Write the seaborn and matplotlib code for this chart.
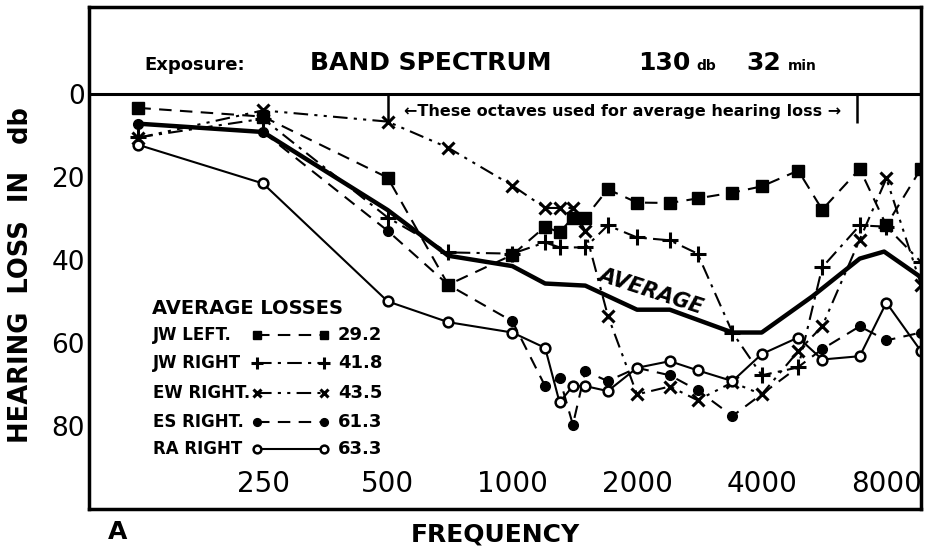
import matplotlib
matplotlib.use('Agg')
import matplotlib.pyplot as plt
from matplotlib.lines import Line2D
from matplotlib.ticker import NullLocator
import seaborn as sns

# hearing loss (db) against frequency (Hz)
jw_left_freq = [125, 250, 500, 700, 1000, 1200, 1300, 1400, 1500, 1700, 2000, 2400, 2800, 3400, 4000, 4900, 5600, 6900, 8000, 9700]
jw_left_loss = [3.4, 5.5, 20.2, 46, 38.8, 32, 33.4, 29.8, 29.8, 23, 26.2, 26.3, 25.2, 23.8, 22.3, 18.5, 27.9, 18.1, 31.7, 18]

jw_right_freq = [125, 250, 500, 700, 1000, 1200, 1300, 1500, 1700, 2000, 2400, 2800, 3400, 4000, 4900, 5600, 6900, 8000, 9700]
jw_right_loss = [10.5, 6, 29.8, 38.2, 38.5, 35.8, 37, 37, 31.7, 34.6, 35.3, 38.5, 57.5, 67.8, 65.9, 41.8, 31.7, 32, 40.5]

ew_right_freq = [125, 250, 500, 700, 1000, 1200, 1300, 1400, 1500, 1700, 2000, 2400, 2800, 3400, 4000, 4900, 5600, 6900, 8000, 9700]
ew_right_loss = [10.6, 4, 6.7, 13, 22.1, 27.5, 27.5, 27.5, 33, 53.4, 72.4, 70.5, 73.8, 69.5, 72.4, 62, 56, 35.1, 20.4, 46]

es_right_freq = [125, 250, 500, 700, 1000, 1200, 1300, 1400, 1500, 1700, 2000, 2400, 2800, 3400, 5600, 6900, 8000, 9700]
es_right_loss = [7.2, 9.2, 33, 46, 54.8, 70.4, 68.5, 79.7, 66.8, 69.2, 66, 67.8, 71.4, 77.6, 61.5, 56, 59.4, 57.5]

ra_right_freq = [125, 250, 500, 700, 1000, 1200, 1300, 1400, 1500, 1700, 2000, 2400, 2800, 3400, 4000, 4900, 5600, 6900, 8000, 9700]
ra_right_loss = [12.3, 21.6, 50, 55, 57.5, 61.2, 74.3, 70.4, 70.4, 71.6, 66, 64.4, 66.6, 69.2, 62.7, 58.7, 64, 63.2, 50.3, 62]

avg_freq = [125, 250, 500, 700, 1000, 1200, 1500, 2000, 2400, 3400, 4000, 5300, 6900, 7900, 9700]
avg_loss = [7.2, 9.2, 28, 39, 41.5, 45.7, 46.2, 52, 52, 57.5, 57.5, 48.8, 39.7, 38, 44.2]

subjects = ['JW LEFT.', 'JW RIGHT', 'EW RIGHT.', 'ES RIGHT.', 'RA RIGHT']
average_losses = ['29.2', '41.8', '43.5', '61.3', '63.3']

freq_ticks = [250, 500, 1000, 2000, 4000, 8000]
freq_labels = ['250', '500', '1000', '2000', '4000', '8000']
loss_ticks = [0, 20, 40, 60, 80]
octave_range = [500, 6800]

sns.set_style('white')
plt.rcParams['font.family'] = ['DejaVu Sans']
plt.rcParams['text.color'] = 'k'
plt.rcParams['axes.labelcolor'] = 'k'
plt.rcParams['xtick.color'] = 'k'
plt.rcParams['ytick.color'] = 'k'

fig = plt.figure(figsize=(9.25, 5.48), dpi=100)
ax = fig.add_axes([0.0962, 0.0712, 0.8995, 0.916])
ax.set_xscale('log')

# one style per subject
styles = [
    dict(linestyle=(0, (6, 4)), marker='s', markersize=8, markerfacecolor='k', markeredgewidth=1),
    dict(linestyle=(0, (7, 3, 1.5, 3)), marker='+', markersize=11, markeredgewidth=2.2),
    dict(linestyle=(0, (7, 3, 1.5, 3, 1.5, 3)), marker='x', markersize=8, markeredgewidth=2.2),
    dict(linestyle=(0, (6, 4)), marker='o', markersize=7, markerfacecolor='k', markeredgewidth=1),
    dict(linestyle='-', marker='o', markersize=7, markerfacecolor='white', markeredgewidth=1.8),
]

series = [
    (jw_left_freq, jw_left_loss),
    (jw_right_freq, jw_right_loss),
    (ew_right_freq, ew_right_loss),
    (es_right_freq, es_right_loss),
    (ra_right_freq, ra_right_loss),
]

for (f, l), st in zip(series, styles):
    sns.lineplot(x=f, y=l, ax=ax, color='k', lw=1.5, markeredgecolor='k',
                 sort=False, estimator=None, **st)

sns.lineplot(x=avg_freq, y=avg_loss, ax=ax, color='k', lw=3.2, sort=False, estimator=None)

ax.set_xlim(95, 9700)
ax.set_ylim(100, -20.9)
ax.axhline(0, color='k', lw=2.2)

ax.set_xticks(freq_ticks)
ax.set_xticklabels(freq_labels)
ax.xaxis.set_minor_locator(NullLocator())
ax.set_yticks(loss_ticks)
ax.tick_params(axis='x', direction='in', length=8, width=2, pad=-28, labelsize=20)
ax.tick_params(axis='y', direction='in', length=8, width=2, pad=3, labelsize=19)
for sp in ax.spines.values():
    sp.set_linewidth(2.5)
    sp.set_color('k')

ax.set_xlabel('FREQUENCY', fontsize=18, fontweight='bold')
ax.xaxis.set_label_coords(0.488, -0.026)
ax.set_ylabel('HEARING  LOSS  IN   db', fontsize=18.5, fontweight='bold')
ax.yaxis.set_label_coords(-0.066, 0.467)
fig.text(118 / 925, 1 - 532 / 548, 'A', fontsize=18, fontweight='bold', ha='center', va='center')

# exposure box
tb = 0.8745
ax.text(0.067, tb, 'Exposure:', transform=ax.transAxes, fontsize=13, fontweight='bold', va='baseline')
ax.text(0.266, tb, 'BAND SPECTRUM', transform=ax.transAxes, fontsize=18, fontweight='bold', va='baseline')
ax.text(0.660, tb, '130', transform=ax.transAxes, fontsize=18, fontweight='bold', va='baseline')
ax.text(0.730, tb, 'db', transform=ax.transAxes, fontsize=10, fontweight='bold', va='baseline')
ax.text(0.790, tb, '32', transform=ax.transAxes, fontsize=18, fontweight='bold', va='baseline')
ax.text(0.840, tb, 'min', transform=ax.transAxes, fontsize=10, fontweight='bold', va='baseline')

# octave bracket
ax.vlines(octave_range, 0, 7, color='k', lw=1.8)
mid = (octave_range[0] * octave_range[1]) ** 0.5
ax.text(mid, 4.3, '\u2190These octaves used for average hearing loss \u2192', fontsize=11.5,
        fontweight='bold', ha='center', va='center')

ax.text(2160, 47.6, 'AVERAGE', fontsize=15, fontweight='bold', style='italic',
        rotation=-18, ha='center', va='center')

# legend table: name, sample line, average loss
ax.text(0.0757, 0.400, 'AVERAGE LOSSES', transform=ax.transAxes, fontsize=14,
        fontweight='bold', va='center')
row_y = [0.347, 0.291, 0.231, 0.173, 0.120]
for name, val, st, y in zip(subjects, average_losses, styles, row_y):
    ax.text(0.077, y, name, transform=ax.transAxes, fontsize=12, fontweight='bold', va='center')
    key = dict(st)
    key['markersize'] = st['markersize'] * 0.8
    ax.add_line(Line2D([0.202, 0.282], [y, y], transform=ax.transAxes, color='k', lw=1.5,
                       markeredgecolor='k', clip_on=False, **key))
    ax.text(0.299, y, val, transform=ax.transAxes, fontsize=13, fontweight='bold', va='center')

fig.savefig('out.png', dpi=100)
